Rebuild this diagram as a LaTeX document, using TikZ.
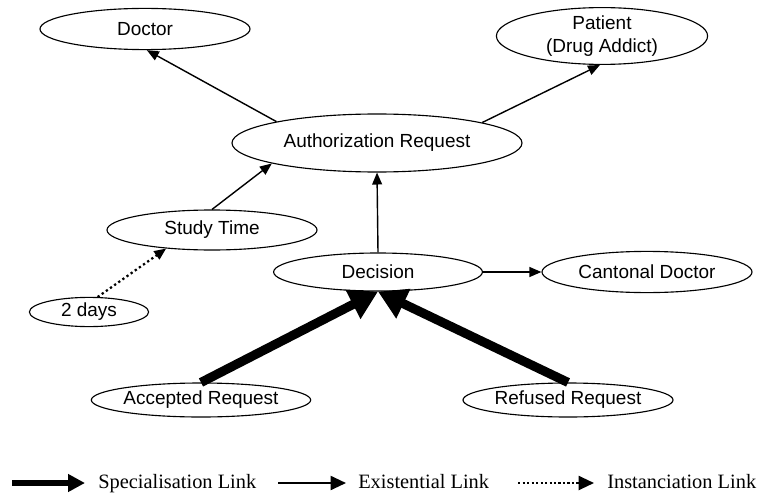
\documentclass[tikz,border=0pt]{standalone}
\usepackage{fontspec}
\setmainfont{Liberation Serif}
\setsansfont{Liberation Sans}
\usetikzlibrary{arrows.meta,shapes.geometric}

\tikzset{
	concept/.style={draw, ellipse, line width=0.8pt, inner sep=0pt, align=center, font=\sffamily\fontsize{13.5}{16}\selectfont},
	existlink/.style={line width=1pt, -{Triangle[length=8.5pt,width=7pt]}},
	speclink/.style={line width=6.5pt, -{Triangle[length=20pt,width=22pt]}},
	instlink/.style={line width=1.6pt, dash pattern=on 1.6pt off 2pt, -{Triangle[length=8.5pt,width=7pt]}},
	legendtext/.style={anchor=base west, inner sep=0pt, font=\fontsize{14.5}{16}\selectfont},
}

\begin{document}
\begin{tikzpicture}
		%%%%% START %%%%%
		\useasboundingbox (0, 0) rectangle (19.175, 12.375);
		
		\node[concept, minimum width=5.25cm, minimum height=1.03cm] (doctor) at (3.625, 11.65) {Doctor};
		\node[concept, minimum width=5.28cm, minimum height=1.35cm] (patient) at (15.05, 11.475) {Patient\\(Drug Addict)};
		\node[concept, minimum width=7.25cm, minimum height=1.45cm] (authreq) at (9.425, 8.8) {Authorization Request};
		\node[concept, minimum width=5.25cm, minimum height=1cm] (studytime) at (5.3, 6.625) {Study Time};
		\node[concept, minimum width=2.98cm, minimum height=0.73cm] (twodays) at (2.225, 4.575) {2 days};
		\node[concept, minimum width=5.22cm, minimum height=0.95cm] (decision) at (9.45, 5.575) {Decision};
		\node[concept, minimum width=5.25cm, minimum height=1.03cm] (cantonal) at (16.175, 5.575) {Cantonal Doctor};
		\node[concept, minimum width=5.3cm, minimum height=0.85cm] (accepted) at (5.025, 2.375) {Accepted Request};
		\node[concept, minimum width=5.25cm, minimum height=0.85cm] (refused) at (14.2, 2.375) {Refused Request};
		
		\draw[existlink] (authreq.168) -- (doctor.275);
		\draw[existlink] (authreq.11) -- (patient.266);
		\draw[existlink] (studytime.north) -- (authreq.191);
		\draw[existlink] (decision.north) -- (authreq.south);
		\draw[existlink] (decision.east) -- (cantonal.west);
		\draw[instlink] (twodays.60) -- (studytime.202);
		
		\draw[speclink] (accepted.north) -- (decision.south);
		\draw[speclink] (refused.north) -- (decision.south);
		
		% legend
		\coordinate (spec0) at (0.3, 0.3);
		\coordinate (spec1) at (2.125, 0.3);
		\coordinate (exist0) at (6.95, 0.3);
		\coordinate (exist1) at (8.65, 0.3);
		\coordinate (inst0) at (12.95, 0.3);
		\coordinate (inst1) at (14.85, 0.3);
		\draw[line width=4.5pt, -{Triangle[length=12pt,width=12pt]}] (spec0) -- (spec1);
		\draw[line width=1.5pt, -{Triangle[length=11pt,width=10pt]}] (exist0) -- (exist1);
		\draw[line width=1.6pt, dash pattern=on 1.6pt off 1.6pt, -{Triangle[length=11pt,width=10pt]}] (inst0) -- (inst1);
		\node[legendtext] (speclabel) at (2.45, 0.17) {Specialisation Link};
		\node[legendtext] (existlabel) at (8.95, 0.17) {Existential Link};
		\node[legendtext] (instlabel) at (15.175, 0.17) {Instanciation Link};
		
		%%%%% END %%%%%
\end{tikzpicture}
\end{document}
